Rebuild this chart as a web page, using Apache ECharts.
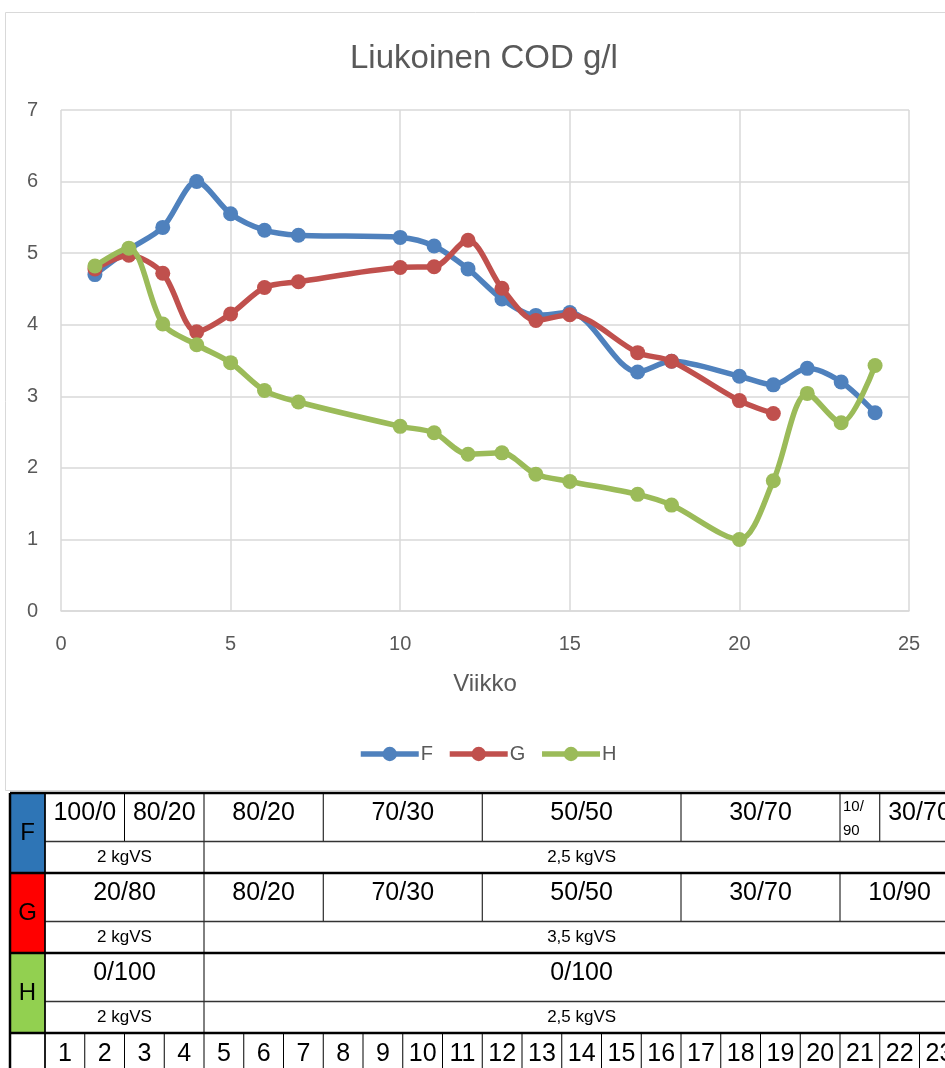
<!DOCTYPE html>
<html>
<head>
<meta charset="utf-8">
<script src="https://cdn.jsdelivr.net/npm/echarts@6/dist/echarts.min.js"></script>
<style>
  html, body { margin: 0; padding: 0; background: #fff; }
  #chart { width: 945px; height: 1068px; }
</style>
</head>
<body>
<div id="chart"></div>
<script>
// Soluble COD per week for reactors F, G and H
const weeksF = [1, 2, 3, 4, 5, 6, 7, 10, 11, 12, 13, 14, 15, 17, 18, 20, 21, 22, 23, 24];
const codF   = [4.70, 5.05, 5.36, 6.00, 5.55, 5.32, 5.25, 5.22, 5.10, 4.78, 4.36, 4.13, 4.17, 3.34, 3.49, 3.28, 3.16, 3.39, 3.20, 2.77];
const weeksG = [1, 2, 3, 4, 5, 6, 7, 10, 11, 12, 13, 14, 15, 17, 18, 20, 21];
const codG   = [4.78, 4.97, 4.72, 3.90, 4.15, 4.52, 4.60, 4.80, 4.81, 5.18, 4.51, 4.06, 4.14, 3.61, 3.49, 2.94, 2.76];
const weeksH = [1, 2, 3, 4, 5, 6, 7, 10, 11, 12, 13, 14, 15, 17, 18, 20, 21, 22, 23, 24];
const codH   = [4.82, 5.07, 4.01, 3.72, 3.47, 3.08, 2.92, 2.58, 2.49, 2.19, 2.21, 1.91, 1.81, 1.63, 1.48, 1.00, 1.82, 3.04, 2.63, 3.43];

const seriesNames = ['F', 'G', 'H'];

// Feed schedule table: [text, first week, last week]
const ratioF = [['100/0', 1, 2], ['80/20', 3, 4], ['80/20', 5, 7], ['70/30', 8, 11], ['50/50', 12, 16], ['30/70', 17, 20], ['10/90', 21, 21], ['30/70', 22, 23]];
const loadF  = [['2 kgVS', 1, 4], ['2,5 kgVS', 5, 23]];
const ratioG = [['20/80', 1, 4], ['80/20', 5, 7], ['70/30', 8, 11], ['50/50', 12, 16], ['30/70', 17, 20], ['10/90', 21, 23]];
const loadG  = [['2 kgVS', 1, 4], ['3,5 kgVS', 5, 23]];
const ratioH = [['0/100', 1, 4], ['0/100', 5, 23]];
const loadH  = [['2 kgVS', 1, 4], ['2,5 kgVS', 5, 23]];
const tableWeeks = ['1','2','3','4','5','6','7','8','9','10','11','12','13','14','15','16','17','18','19','20','21','22','23'];

const FONT = '"Liberation Sans", Arial, sans-serif';
const TEXT = '#595959';
const GRID = '#D9D9D9';
const colors = ['#4F81BD', '#C0504D', '#9BBB59'];
const groupColors = ['#2E75B6', '#FF0000', '#92D050'];

// ---- table geometry ----
const tLeft = 10, colorW = 35, wk0 = 45, wkW = 39.75;
const tTop = 793, groupH = 80, row1H = 48.5, weekRowTop = 1033, tBottom = 1075;
const wx = w => wk0 + (w - 1) * wkW;

function line(x1, y1, x2, y2, w, c) {
  return { type: 'line', silent: true, z: 20, shape: { x1, y1, x2, y2 }, style: { stroke: c || '#000', lineWidth: w } };
}
function text(str, x, y, size, align, vAlign) {
  return { type: 'text', silent: true, z: 21, x, y,
    style: { text: str, fontFamily: FONT, fontSize: size, fill: '#000', align: align || 'center', verticalAlign: vAlign || 'middle' } };
}

function buildTable() {
  const els = [];
  const groups = [[ratioF, loadF], [ratioG, loadG], [ratioH, loadH]];
  groups.forEach(([ratio, load], gi) => {
    const top = tTop + gi * groupH;
    els.push({ type: 'rect', silent: true, z: 19, shape: { x: tLeft, y: top, width: colorW, height: groupH }, style: { fill: groupColors[gi] } });
    els.push(text(seriesNames[gi], tLeft + colorW / 2, top + groupH / 2, 24));
    // first sub-row: mixing ratios
    ratio.forEach(([t, a, b]) => {
      const x1 = wx(a), x2 = wx(b + 1);
      els.push(line(x1, top, x1, top + row1H, 1));
      if (a === b) {
        const parts = t.split('/');
        els.push(text(parts[0] + '/', x1 + 3, top + 14, 15, 'left'));
        els.push(text(parts[1], x1 + 3, top + 38, 15, 'left'));
      } else {
        els.push(text(t, (x1 + x2) / 2, top + 20, 25));
      }
    });
    // second sub-row: loading rate
    load.forEach(([t, a, b]) => {
      const x1 = wx(a), x2 = wx(b + 1);
      els.push(line(x1, top + row1H, x1, top + groupH, 1));
      els.push(text(t, (x1 + x2) / 2, top + row1H + 16, 17));
    });
    els.push(line(wk0, top + row1H, 945, top + row1H, 1.5, '#333'));
    els.push(line(tLeft, top, 945, top, 2.5));
  });
  // week number row
  tableWeeks.forEach((t, i) => {
    const x1 = wx(i + 1);
    els.push(line(x1, weekRowTop, x1, tBottom, 1));
    els.push(text(t, x1 + wkW / 2, weekRowTop + 21, 25));
  });
  els.push(line(tLeft, weekRowTop, 945, weekRowTop, 2.5));
  els.push(line(tLeft, tTop, tLeft, tBottom, 2.5));
  els.push(line(wk0, tTop, wk0, tBottom, 1.5));
  return els;
}

const mkData = (xs, ys) => xs.map((x, i) => [x, ys[i]]);
const seriesData = [mkData(weeksF, codF), mkData(weeksG, codG), mkData(weeksH, codH)];

const chart = echarts.init(document.getElementById('chart'), null, { renderer: 'canvas' });
chart.setOption({
  animation: false,
  backgroundColor: '#fff',
  title: {
    text: 'Liukoinen COD g/l', left: 345, top: 37,
    textStyle: { fontFamily: FONT, fontSize: 33, fontWeight: 'normal', color: TEXT }
  },
  legend: {
    data: seriesNames, left: 353, top: 739,
    itemWidth: 58, itemHeight: 18, itemGap: 14,
    lineStyle: { width: 5.5 },
    textStyle: { fontFamily: FONT, fontSize: 20, color: TEXT, padding: [0, 0, 0, -3] }
  },
  grid: { left: 61, right: 36, top: 110, bottom: 457 },
  xAxis: {
    type: 'value', min: 0, max: 25, interval: 5,
    name: 'Viikko', nameLocation: 'middle', nameGap: 61,
    nameTextStyle: { fontFamily: FONT, fontSize: 24, color: TEXT },
    axisLine: { show: true, lineStyle: { color: GRID, width: 1.5 } },
    axisTick: { show: false },
    axisLabel: { margin: 23, fontFamily: FONT, fontSize: 20, color: TEXT },
    splitLine: { show: true, lineStyle: { color: GRID, width: 1.5 } }
  },
  yAxis: {
    type: 'value', min: 0, max: 7, interval: 1,
    axisLine: { show: false },
    axisTick: { show: false },
    axisLabel: { margin: 23, fontFamily: FONT, fontSize: 20, color: TEXT },
    splitLine: { show: true, lineStyle: { color: GRID, width: 1.5 } }
  },
  series: seriesNames.map((n, i) => ({
    name: n, type: 'line', data: seriesData[i],
    smooth: 0.3, symbol: 'circle', symbolSize: 15,
    lineStyle: { width: 5.5, color: colors[i] },
    itemStyle: { color: colors[i] },
    z: 2 + i
  })),
  graphic: [
    { type: 'rect', silent: true, z: -1, shape: { x: 5.5, y: 12.5, width: 960, height: 778 }, style: { fill: 'none', stroke: GRID, lineWidth: 1 } },
    ...buildTable()
  ]
});
</script>
</body>
</html>
